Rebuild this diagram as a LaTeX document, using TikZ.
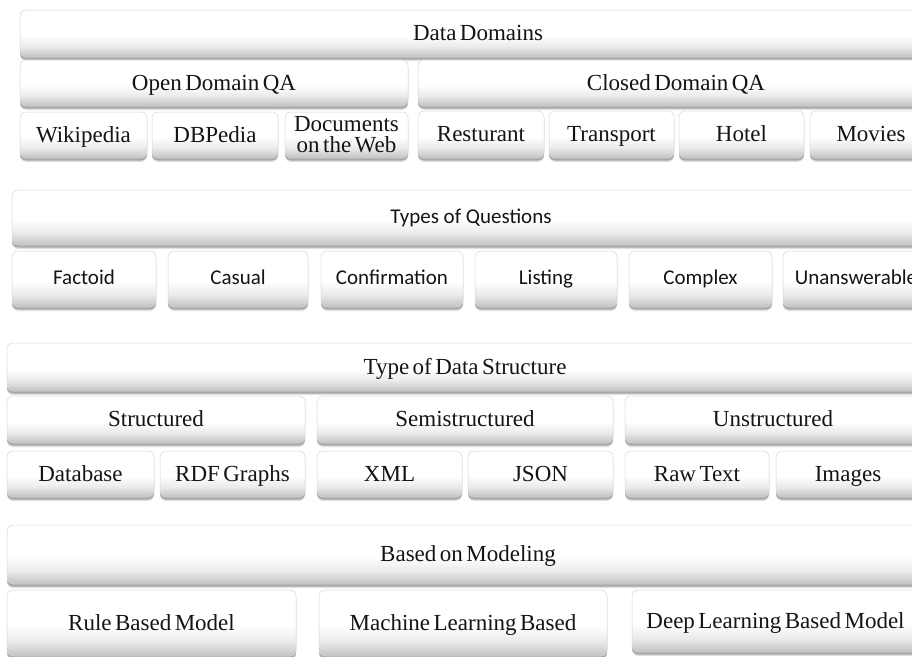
\documentclass[tikz,border=0pt]{standalone}
\usepackage{fontspec}
\setmainfont{Liberation Serif}[WordSpace=0.6]
\newfontfamily\calfont{Carlito}
\usetikzlibrary{shadows}
\pgfdeclareverticalshading{boxshade}{100bp}{color(0bp)=(black!24); color(25bp)=(black!24); color(36bp)=(black!8); color(48bp)=(white); color(100bp)=(white)}
\tikzset{
  box/.style={rectangle, rounded corners=6pt, draw=black!16, line width=0.5pt,
    shade, shading=boxshade, text=black!92, inner sep=0pt, align=center,
    drop shadow={shadow xshift=0pt, shadow yshift=-2.5pt, opacity=0.35, fill=black!70},
    drop shadow={shadow xshift=0pt, shadow yshift=-4pt, opacity=0.12, fill=black}},
  tms/.style={font=\fontsize{23}{21}\selectfont, text height=18pt, text depth=4pt},
  tmstwo/.style={font=\fontsize{23}{21}\selectfont},
  cal/.style={font=\calfont\fontsize{21}{21}\selectfont, text height=15.5pt, text depth=4pt},
}
\newcommand\boxat[7]{\node[box,#6,minimum width={#4-#2}, minimum height={#5-#3}] (#1) at ({(#2+#4)/2},{(#3+#5)/2}) {#7};}
\begin{document}
\begin{tikzpicture}[x=1pt,y=-1pt]
\useasboundingbox (0,0) rectangle (912,656);
\fill[white] (0,0) rectangle (912,656);
\clip (0,0) rectangle (912,656);
% Section 1
\boxat{dd}{20}{10}{936}{57}{tms}{Data Domains}
\boxat{open}{20}{60}{408}{106}{tms}{Open Domain QA}
\boxat{closed}{418}{60}{934}{106}{tms}{Closed Domain QA}
\boxat{wiki}{20}{112}{147}{158}{tms}{Wikipedia}
\boxat{dbp}{152}{112}{278}{158}{tms}{DBPedia}
\boxat{docs}{285}{112}{408}{158}{tmstwo}{Documents\\on the Web}
\boxat{rest}{418}{111}{544}{158}{tms}{Resturant}
\boxat{trans}{549}{111}{674}{158}{tms}{Transport}
\boxat{hotel}{679}{111}{804}{158}{tms}{Hotel}
\boxat{movies}{810}{111}{932}{158}{tms}{Movies}
% Section 2
\boxat{toq}{12}{190}{930}{245}{cal}{Types of Questions}
\boxat{factoid}{12}{251}{156}{307}{cal}{Factoid}
\boxat{casual}{168}{251}{308}{307}{cal}{Casual}
\boxat{confirm}{321}{251}{463}{307}{cal}{Confirmation}
\boxat{listing}{475}{251}{617}{307}{cal}{Listing}
\boxat{complex}{629}{251}{772}{307}{cal}{Complex}
\boxat{unans}{783}{251}{929}{307}{cal}{Unanswerable}
% Section 3
\boxat{tds}{7}{343}{923}{391}{tms}{Type of Data Structure}
\boxat{struct}{7}{396}{305}{443}{tms}{Structured}
\boxat{semi}{317}{396}{613}{443}{tms}{Semistructured}
\boxat{unstruct}{625}{396}{921}{443}{tms}{Unstructured}
\boxat{database}{7}{451}{154}{497}{tms}{Database}
\boxat{rdf}{160}{451}{305}{497}{tms}{RDF Graphs}
\boxat{xml}{317}{451}{462}{497}{tms}{XML}
\boxat{json}{468}{451}{613}{497}{tms}{JSON}
\boxat{raw}{625}{451}{769}{497}{tms}{Raw Text}
\boxat{images}{776}{451}{920}{497}{tms}{Images}
% Section 4
\boxat{bom}{7}{525}{929}{584}{tms}{Based on Modeling}
\boxat{rule}{7}{590}{296}{656}{tms}{Rule Based Model}
\boxat{ml}{319}{590}{607}{656}{tms}{Machine Learning Based}
\boxat{dl}{632}{590}{919}{652}{tms}{Deep Learning Based Model}
\end{tikzpicture}
\end{document}
